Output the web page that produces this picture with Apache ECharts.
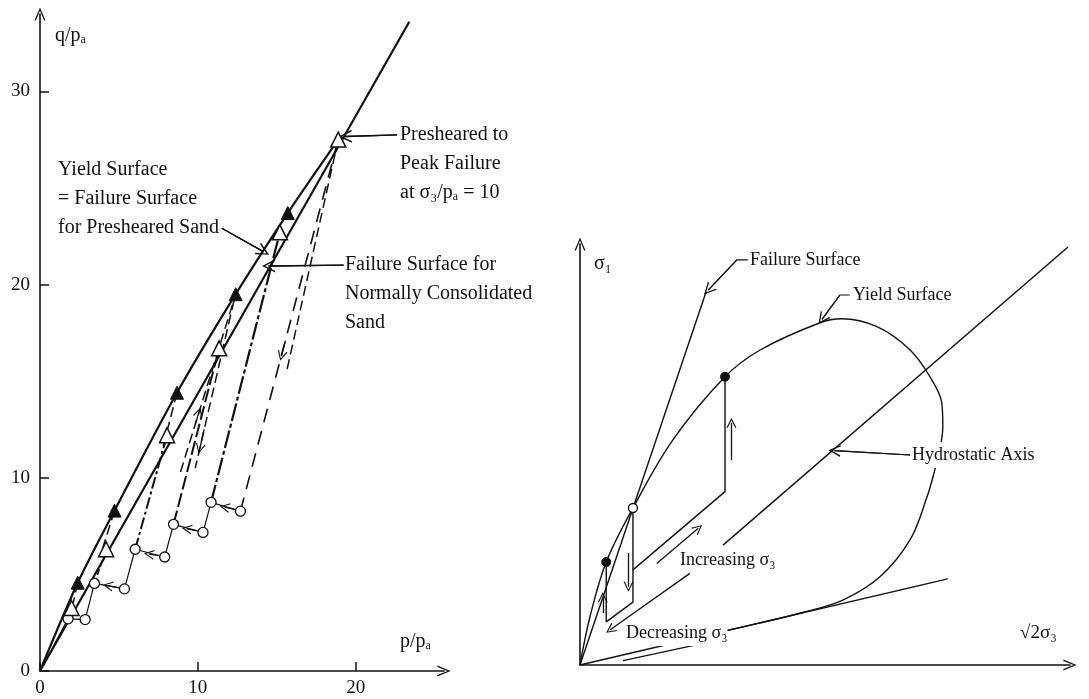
<!DOCTYPE html>
<html>
<head>
<meta charset="utf-8">
<script src="https://cdn.jsdelivr.net/npm/echarts@6/dist/echarts.min.js"></script>
<style>
html, body { margin: 0; padding: 0; background: #fff; }
#chart { width: 1089px; height: 699px; }
</style>
</head>
<body>
<div id="chart"></div>
<script>
// ---- left panel: q/pa against p/pa ----
var yieldCurve = [[0, 0], [2.39, 4.57], [4.72, 8.3], [8.68, 14.4], [12.4, 19.5], [15.7, 23.7], [18.9, 27.5]];
var ncFailureLine = [[0, 0], [23.4, 33.6]];
var openTriangles = [[2.0, 3.26], [4.19, 6.3], [8.05, 12.2], [11.35, 16.7], [15.2, 22.7], [18.9, 27.5]];
var filledTriangles = [[2.39, 4.57], [4.72, 8.3], [8.68, 14.4], [12.4, 19.5], [15.7, 23.7]];
var circles = [[1.78, 2.7], [2.86, 2.66], [3.45, 4.53], [5.35, 4.25], [6.03, 6.3], [7.9, 5.9],
               [8.46, 7.59], [10.33, 7.17], [10.84, 8.73], [12.7, 8.27]];
var loadPaths = [
    [[1.78, 2.7], [2.0, 3.26]],
    [[3.45, 4.53], [4.19, 6.3]],
    [[6.03, 6.3], [8.05, 12.2]],
    [[8.46, 7.59], [11.35, 16.7]],
    [[10.84, 8.73], [15.2, 22.7]],
    [[12.7, 8.27], [18.9, 27.5]]
];
var unloadPaths = [
    [[18.9, 27.5], [15.6, 15.4]],
    [[8.9, 10.3], [12.4, 19.5]],
    [[12.3, 19.2], [9.84, 10.5]],
    [[8.68, 14.4], [7.7, 11.3]],
    [[4.72, 8.3], [3.8, 5.9]],
    [[2.39, 4.57], [2.1, 3.5]]
];
var pathArrows = [
    [[4.9, 4.33], [4.3, 4.42]],
    [[7.5, 5.97], [6.9, 6.05]],
    [[9.9, 7.27], [9.3, 7.36]],
    [[12.3, 8.38], [11.7, 8.48]],
    [[15.55, 17.1], [15.3, 16.3]],
    [[9.85, 12.8], [10.08, 13.4]],
    [[10.4, 12.5], [10.12, 11.5]]
];
var leftLeaders = [
    [[11.52, 22.91], [14.16, 21.7]],
    [[22.62, 27.74], [19.34, 27.66]],
    [[19.24, 21.0], [14.48, 20.96]]
];

// ---- right panel: sigma1 against sqrt2 sigma3 (schematic units) ----
var failureSurface = [[0, 0], [25.5, 75.4]];
var yieldSurface = [[0, 0], [2.0, 9.7], [5.3, 20.8], [10.7, 31.7], [18.8, 45.5], [29.3, 58.2], [36.4, 63.6],
                    [48.5, 69.1], [52.9, 69.9], [60.0, 68.3], [66.7, 63.6], [70.7, 58.2], [73.1, 52.9],
                    [73.3, 48.1], [72.7, 43.4], [71.7, 39.4], [70.1, 33.9], [66.7, 25.3], [60.6, 17.8],
                    [53.1, 13.1], [45.0, 10.6], [36.0, 8.4], [28.0, 6.6]];
var baseLine = [[0, 0], [74.3, 17.4]];
var extraStroke = [[8.7, 0.9], [24.2, 4.2]];
var hydrostaticAxis = [[28.9, 24.2], [98.6, 84.4]];
var decreasingPath = [[10.7, 31.7], [10.7, 12.7], [5.3, 8.7], [5.3, 20.8]];
var increasingPath = [[10.7, 19.2], [29.3, 35.0], [29.3, 58.2]];
var openPoint = [[10.7, 31.7]];
var filledPoints = [[5.3, 20.8], [29.3, 58.2]];
var stressArrows = [
    [[15.5, 20.5], [23.9, 27.6]],
    [[22.2, 18.5], [6.1, 7.1]],
    [[9.8, 22.6], [9.8, 15.8]],
    [[4.6, 10.5], [4.6, 13.7]],
    [[30.6, 41.4], [30.6, 48.9]]
];
var rightLeaders = [
    [[33.9, 81.8], [31.7, 81.8], [25.9, 75.7]],
    [[54.5, 74.7], [52.5, 74.7], [48.9, 69.8]],
    [[66.7, 42.4], [51.4, 43.3]]
];

var CHEV = 'path://M5,0L10,12L8.7,12L5,2.8L1.3,12L0,12Z';
var SERIF = '"Liberation Serif", "DejaVu Serif", serif';
var INK = '#111';

var myChart = echarts.init(document.getElementById('chart'));

function lineSeries(data, g, width, type, smooth) {
    return {
        type: 'line', xAxisIndex: g, yAxisIndex: g, data: data,
        symbol: 'none', silent: true, smooth: smooth || false,
        lineStyle: {color: INK, width: width, type: type || 'solid'},
        z: 2
    };
}

function arrowSeries(pairs, g, width, size) {
    return {
        type: 'line', xAxisIndex: g, yAxisIndex: g, data: [pairs[0][0]],
        symbol: 'none', silent: true, lineStyle: {width: 0},
        markLine: {
            silent: true, symbol: ['none', CHEV], symbolSize: size,
            label: {show: false},
            lineStyle: {color: INK, width: width, type: 'solid'},
            data: pairs.map(function (p) {
                var n = p.length;
                return [{coord: p[n - 2]}, {coord: p[n - 1]}];
            })
        },
        z: 3
    };
}

function scatter(data, g, symbol, size, fill, border) {
    return {
        type: 'scatter', xAxisIndex: g, yAxisIndex: g, data: data, silent: true,
        symbol: symbol, symbolSize: size,
        itemStyle: {color: fill, borderColor: INK, borderWidth: border, opacity: 1},
        z: 5
    };
}

// y = centre of the first line
function txt(x, y, lines, size, bg) {
    var lh = Math.round(size * 1.45);
    return {
        type: 'text', x: x, y: y - lh / 2, silent: true, z: 10,
        style: {
            text: lines.join('\n'), fontFamily: SERIF, fontSize: size, fill: INK,
            lineHeight: lh, verticalAlign: 'top', textAlign: 'left',
            backgroundColor: bg || 'transparent'
        }
    };
}

var loadStyles = [[1.5, 'solid'], [1.6, [6, 3]], [2, [12, 3, 3, 3]], [2, [14, 4]], [2.2, [18, 3, 4, 3]], [1.6, [14, 9]]];

var series = [
    lineSeries(ncFailureLine, 0, 2.2),
    lineSeries(yieldCurve, 0, 2.2, 'solid', 0.3),
    lineSeries([[0, 0]].concat(circles), 0, 1.2)
];
loadPaths.forEach(function (p, i) {
    series.push(lineSeries(p, 0, loadStyles[i][0], loadStyles[i][1]));
});
unloadPaths.forEach(function (p) {
    series.push(lineSeries(p, 0, 1.5, [10, 5]));
});
leftLeaders.forEach(function (p) {
    series.push(lineSeries(p, 0, 1.3));
});
series.push(arrowSeries(pathArrows, 0, 1.3, 10));
series.push(arrowSeries(leftLeaders, 0, 1.3, 13));
series.push(scatter(circles, 0, 'circle', 10, '#fff', 1.3));
series.push(scatter(openTriangles, 0, 'triangle', 15, '#fff', 1.5));
series.push(scatter(filledTriangles, 0, 'triangle', 13, INK, 1));

series.push(lineSeries(failureSurface, 1, 1.4));
series.push(lineSeries(yieldSurface, 1, 1.4, 'solid', 0.35));
series.push(lineSeries(baseLine, 1, 1.4));
series.push(lineSeries(extraStroke, 1, 1.2));
series.push(lineSeries(hydrostaticAxis, 1, 1.4));
series.push(lineSeries(decreasingPath, 1, 1.4));
series.push(lineSeries(increasingPath, 1, 1.4));
rightLeaders.forEach(function (p) {
    series.push(lineSeries(p, 1, 1.2));
});
series.push(arrowSeries(stressArrows, 1, 1.3, 10));
series.push(arrowSeries(rightLeaders, 1, 1.2, 12));
series.push(scatter(openPoint, 1, 'circle', 9, '#fff', 1.3));
series.push(scatter(filledPoints, 1, 'circle', 9, INK, 1));

function axisBase(extra) {
    var a = {
        type: 'value', splitLine: {show: false},
        axisLine: {show: true, onZero: false, symbol: ['none', CHEV], symbolSize: [11, 18],
                   lineStyle: {color: INK, width: 1.6}},
        axisTick: {show: true, inside: true, length: 9, lineStyle: {color: INK, width: 1.5}},
        axisLabel: {color: INK, fontFamily: SERIF, fontSize: 19}
    };
    return Object.assign(a, extra);
}

var option = {
    animation: false,
    backgroundColor: '#fff',
    grid: [
        {left: 40, top: 14, width: 404, height: 657},
        {left: 580, top: 244, width: 490, height: 421}
    ],
    xAxis: [
        axisBase({gridIndex: 0, min: 0, max: 25.6, interval: 10,
                  axisLabel: {color: INK, fontFamily: SERIF, fontSize: 19, margin: 8, showMaxLabel: false}}),
        axisBase({gridIndex: 1, min: 0, max: 99, axisTick: {show: false}, axisLabel: {show: false}})
    ],
    yAxis: [
        axisBase({gridIndex: 0, min: 0, max: 34, interval: 10,
                  axisLabel: {color: INK, fontFamily: SERIF, fontSize: 19, margin: 10, showMaxLabel: false}}),
        axisBase({gridIndex: 1, min: 0, max: 85, axisTick: {show: false}, axisLabel: {show: false}})
    ],
    graphic: [
        txt(55, 36, ['q/pₐ'], 20),
        txt(400, 642, ['p/pₐ'], 20),
        txt(58, 170, ['Yield Surface', '= Failure Surface', 'for Presheared Sand'], 20),
        txt(400, 135, ['Presheared to', 'Peak Failure', 'at σ₃/pₐ = 10'], 20),
        txt(345, 265, ['Failure Surface for', 'Normally Consolidated', 'Sand'], 20),
        txt(594, 264, ['σ₁'], 20),
        txt(750, 260, ['Failure Surface'], 18),
        txt(853, 295, ['Yield Surface'], 18),
        txt(912, 455, ['Hydrostatic Axis'], 18, '#fff'),
        txt(680, 560, ['Increasing σ₃'], 18),
        txt(626, 633, ['Decreasing σ₃'], 18, '#fff'),
        txt(1020, 633, ['√2σ₃'], 19)
    ],
    series: series
};

myChart.setOption(option);
window.addEventListener('resize', function () {
    myChart.resize();
});
</script>
</body>
</html>
